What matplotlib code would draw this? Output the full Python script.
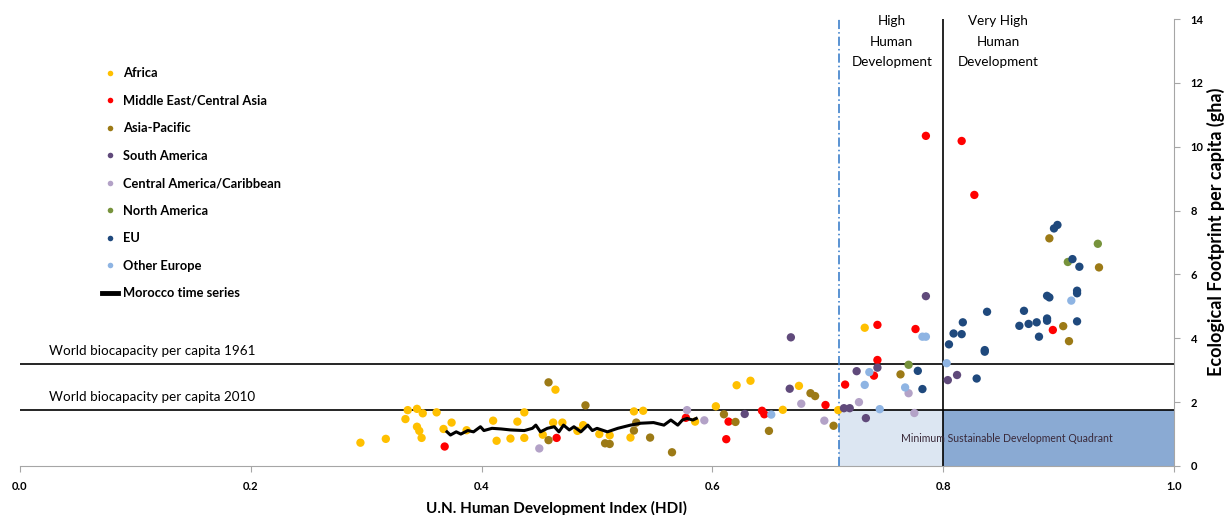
import matplotlib
matplotlib.use("Agg")
import matplotlib.pyplot as plt
from matplotlib.lines import Line2D
from matplotlib.patches import Rectangle

plt.rcParams['font.family'] = ['Lato', 'DejaVu Sans']

# ---- data: (HDI, ecological footprint gha per capita) ----
africa_hdi = [0.295, 0.317, 0.336, 0.344, 0.349, 0.361, 0.334, 0.344, 0.346, 0.348,
              0.367, 0.374, 0.387, 0.410, 0.413, 0.425, 0.431, 0.437, 0.437, 0.453,
              0.464, 0.462, 0.470, 0.488, 0.483, 0.502, 0.511, 0.529, 0.532, 0.540,
              0.585, 0.603, 0.621, 0.633, 0.661, 0.675, 0.709, 0.732]
africa_ef = [0.73, 0.85, 1.75, 1.79, 1.65, 1.68, 1.47, 1.23, 1.10, 0.88,
             1.16, 1.36, 1.12, 1.42, 0.79, 0.86, 1.39, 1.68, 0.88, 0.98,
             2.39, 1.36, 1.36, 1.28, 1.10, 1.00, 0.96, 0.89, 1.71, 1.73,
             1.39, 1.87, 2.53, 2.67, 1.76, 2.51, 1.75, 4.33]

mideast_hdi = [0.368, 0.465, 0.577, 0.614, 0.612, 0.643, 0.645, 0.698, 0.715,
               0.743, 0.776, 0.743, 0.740, 0.785, 0.816, 0.827, 0.895]
mideast_ef = [0.61, 0.88, 1.51, 1.39, 0.84, 1.73, 1.62, 1.91, 2.55,
              4.42, 4.29, 3.32, 2.83, 10.34, 10.18, 8.49, 4.26]

asiapac_hdi = [0.458, 0.458, 0.490, 0.507, 0.511, 0.534, 0.532, 0.546, 0.565, 0.610,
               0.620, 0.649, 0.685, 0.689, 0.705, 0.763, 0.892, 0.904, 0.909, 0.935]
asiapac_ef = [0.81, 2.62, 1.90, 0.71, 0.69, 1.36, 1.11, 0.89, 0.43, 1.62,
              1.38, 1.10, 2.28, 2.19, 1.26, 2.87, 7.13, 4.38, 3.91, 6.22]

samerica_hdi = [0.628, 0.667, 0.668, 0.714, 0.719, 0.725, 0.743, 0.733, 0.785, 0.804, 0.812]
samerica_ef = [1.63, 2.42, 4.03, 1.81, 1.81, 2.97, 3.08, 1.50, 5.32, 2.69, 2.85]

camerica_hdi = [0.450, 0.578, 0.593, 0.677, 0.697, 0.727, 0.770, 0.775]
camerica_ef = [0.55, 1.75, 1.43, 1.95, 1.42, 2.00, 2.28, 1.66]

namerica_hdi = [0.770, 0.908, 0.934]
namerica_ef = [3.17, 6.39, 6.96]

eu_hdi = [0.805, 0.778, 0.782, 0.896, 0.899, 0.912, 0.918, 0.890, 0.892, 0.916,
          0.916, 0.870, 0.838, 0.866, 0.874, 0.881, 0.890, 0.890, 0.883, 0.916,
          0.817, 0.809, 0.816, 0.836, 0.836, 0.829]
eu_ef = [3.81, 2.98, 2.41, 7.44, 7.55, 6.48, 6.24, 5.33, 5.28, 5.49,
         5.41, 4.86, 4.83, 4.39, 4.45, 4.50, 4.62, 4.55, 4.05, 4.53,
         4.50, 4.15, 4.13, 3.58, 3.63, 2.74]

oeurope_hdi = [0.651, 0.736, 0.732, 0.767, 0.745, 0.782, 0.785, 0.803, 0.911]
oeurope_ef = [1.61, 2.94, 2.54, 2.46, 1.78, 4.05, 4.05, 3.22, 5.18]

morocco_hdi = [0.370, 0.373, 0.378, 0.382, 0.388, 0.393, 0.399, 0.402, 0.409, 0.417,
               0.425, 0.437, 0.444, 0.447, 0.451, 0.457, 0.463, 0.467, 0.471, 0.476,
               0.480, 0.486, 0.492, 0.496, 0.500, 0.509, 0.518, 0.529, 0.538, 0.549,
               0.558, 0.564, 0.570, 0.574, 0.578, 0.583, 0.586]
morocco_ef = [1.07, 0.97, 1.07, 1.00, 1.11, 1.07, 1.23, 1.11, 1.18, 1.16,
              1.13, 1.11, 1.18, 1.28, 1.07, 1.18, 1.23, 1.07, 1.28, 1.13,
              1.23, 1.07, 1.28, 1.11, 1.18, 1.07, 1.18, 1.28, 1.34, 1.36,
              1.28, 1.44, 1.28, 1.44, 1.49, 1.44, 1.49]

biocap_1961 = 3.2
biocap_2010 = 1.75
high_hdi = 0.71
very_high_hdi = 0.8

x_ticks = [0.0, 0.2, 0.4, 0.6, 0.8, 1.0]
y_ticks = [0, 2, 4, 6, 8, 10, 12, 14]

regions = [
    ("Africa", africa_hdi, africa_ef, "#FFC000"),
    ("Middle East/Central Asia", mideast_hdi, mideast_ef, "#FF0000"),
    ("Asia-Pacific", asiapac_hdi, asiapac_ef, "#9C7A16"),
    ("South America", samerica_hdi, samerica_ef, "#604A7B"),
    ("Central America/Caribbean", camerica_hdi, camerica_ef, "#B3A2C7"),
    ("North America", namerica_hdi, namerica_ef, "#77933C"),
    ("EU", eu_hdi, eu_ef, "#1F497D"),
    ("Other Europe", oeurope_hdi, oeurope_ef, "#8EB4E3"),
]

fig = plt.figure(figsize=(12.28, 5.15), dpi=100)
ax = fig.add_axes([20 / 1228, 49 / 515, 1154 / 1228, 447 / 515])
ax.set_xlim(0, 1.0)
ax.set_ylim(0, 14)

# sustainable development quadrants
ax.add_patch(Rectangle((high_hdi, 0), very_high_hdi - high_hdi, biocap_2010,
                       facecolor="#DCE6F2", edgecolor="none", zorder=0))
ax.add_patch(Rectangle((very_high_hdi, 0), 1.0 - very_high_hdi, biocap_2010,
                       facecolor="#8AAAD3", edgecolor="none", zorder=0))

# reference lines
ax.axhline(biocap_1961, color="black", lw=1.2, zorder=1)
ax.axhline(biocap_2010, color="black", lw=1.2, zorder=1)
ax.axvline(high_hdi, color="#2E75C6", lw=1.1, ls=(0, (6, 2, 1, 2)), zorder=1)
ax.axvline(very_high_hdi, color="black", lw=1.2, zorder=1)

for name, xs, ys, col in regions:
    ax.scatter(xs, ys, s=36, color=col, edgecolors="none", zorder=3)

ax.plot(morocco_hdi, morocco_ef, color="black", lw=2.2, zorder=4)

ax.text(0.025, biocap_1961 + 0.22, "World biocapacity per capita 1961",
        fontsize=9.7, va="bottom", ha="left")
ax.text(0.025, biocap_2010 + 0.22, "World biocapacity per capita 2010",
        fontsize=9.7, va="bottom", ha="left")
ax.text(0.7555, 14.12, "High\nHuman\nDevelopment", fontsize=9.7,
        ha="center", va="top", linespacing=1.85)
ax.text(0.8475, 14.12, "Very High\nHuman\nDevelopment", fontsize=9.7,
        ha="center", va="top", linespacing=1.85)
ax.text(0.855, 0.85, "Minimum Sustainable Development Quadrant",
        fontsize=7.6, ha="center", va="center", color="#3A2A3A", zorder=2)

# axes styling
for side in ("left", "top"):
    ax.spines[side].set_visible(False)
ax.spines["bottom"].set_color("#A6A6A6")
ax.spines["right"].set_color("#A6A6A6")
ax.yaxis.tick_right()
ax.set_xticks(x_ticks)
ax.set_xticklabels([f"{t:.1f}" for t in x_ticks], fontsize=8, fontweight="bold")
ax.set_yticks(y_ticks)
ax.set_yticklabels([str(t) for t in y_ticks], fontsize=8, fontweight="bold")
ax.tick_params(axis="both", colors="#A6A6A6", labelcolor="black", length=4)
ax.tick_params(axis="x", pad=7)
ax.tick_params(axis="y", pad=8)

fig.text(557 / 1228, 7 / 515, "U.N. Human Development Index (HDI)",
         fontsize=11, fontweight="bold", ha="center", va="center")
fig.text(1216 / 1228, 1 - 232 / 515, "Ecological Footprint per capita (gha)",
         fontsize=13, fontweight="bold", ha="center", va="center", rotation=90)

handles = [Line2D([], [], ls="none", marker="o", ms=4, color=c, mec="none")
           for _, _, _, c in regions]
handles.append(Line2D([], [], color="black", lw=3.5))
labels = [r[0] for r in regions] + ["Morocco time series"]
fig.legend(handles, labels, loc="upper left", bbox_to_anchor=(96 / 1228, 1 - 61 / 515),
           frameon=False, handlelength=1.2, handletextpad=0.4,
           labelspacing=1.2, borderpad=0, prop={"weight": "bold", "size": 9.3})

fig.savefig("out.png", dpi=100)
